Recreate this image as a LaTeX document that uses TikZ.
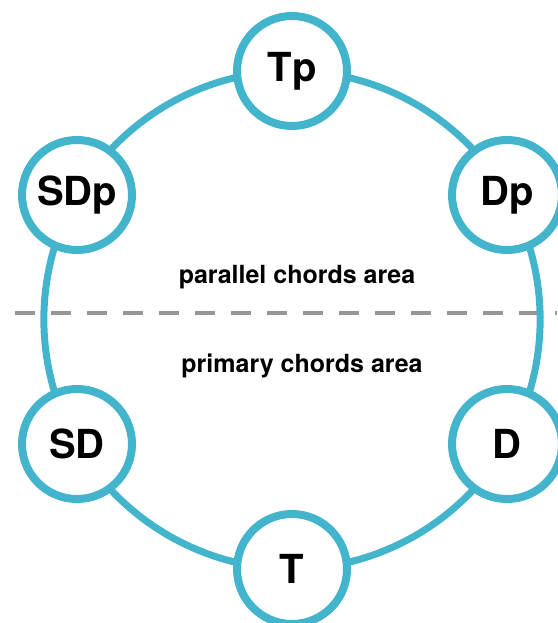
\documentclass[tikz,border=0pt]{standalone}
\usepackage{fontspec}
\setmainfont{TeX Gyre Heros}
\usetikzlibrary{backgrounds}
\definecolor{ringblue}{RGB}{66,180,204}
\definecolor{dashgray}{RGB}{150,150,150}
\begin{document}
\begin{tikzpicture}[
    x=1pt, y=-1pt,
    every node/.style={align=center},
    chord/.style={circle, draw=ringblue, line width=8pt, fill=white,
        minimum size=110pt, inner sep=0pt,
        font=\fontsize{40}{44}\selectfont\bfseries},
    area label/.style={anchor=base, font=\fontsize{25}{28}\selectfont\bfseries},
    ring arc/.style={draw=ringblue, line width=7pt, bend right=30, looseness=0.91},
    split line/.style={draw=dashgray, line width=4pt, dash pattern=on 20pt off 16pt},
    ]
\useasboundingbox (0,0) rectangle (557,623);
\node[chord] (Tp) at (292,71) {Tp};
\node[chord] (SDp) at (77,195) {SDp};
\node[chord] (SD) at (77,444) {SD};
\node[chord] (T) at (292,569) {T};
\node[chord] (D) at (507,444) {D};
\node[chord] (Dp) at (507,195) {Dp};
\node[area label] (parallel) at (297,283) {parallel chords area};
\node[area label] (primary) at (302,372) {primary chords area};
\coordinate (splitL) at (15,313);
\coordinate (splitR) at (557,313);
\begin{pgfonlayer}{background}
\draw[split line] (splitL) -- (splitR);
\draw[ring arc] (Tp.center) to (SDp.center);
\draw[ring arc] (SDp.center) to (SD.center);
\draw[ring arc] (SD.center) to (T.center);
\draw[ring arc] (T.center) to (D.center);
\draw[ring arc] (D.center) to (Dp.center);
\draw[ring arc] (Dp.center) to (Tp.center);
\end{pgfonlayer}
\end{tikzpicture}
\end{document}
